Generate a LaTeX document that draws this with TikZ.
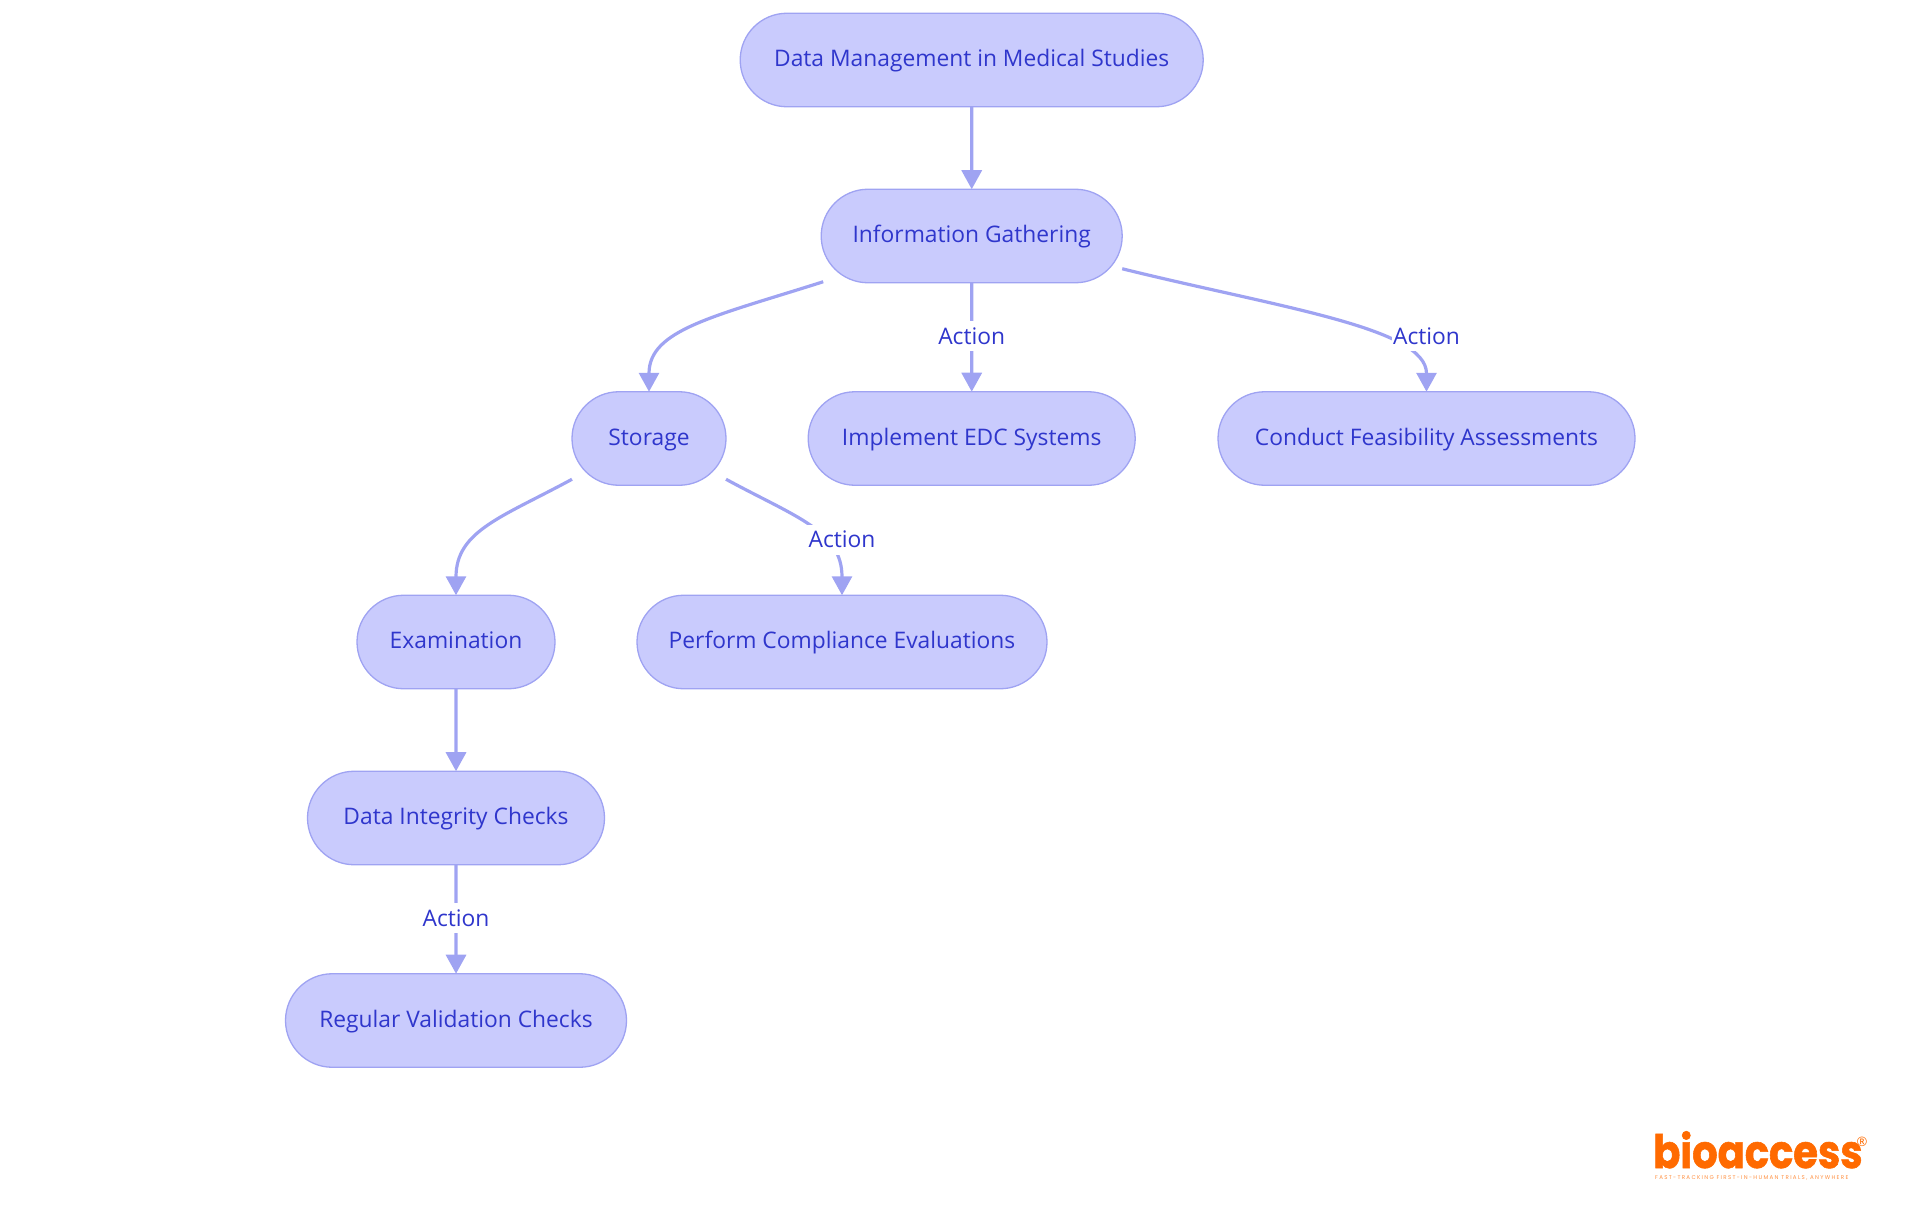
\documentclass[tikz,border=0pt]{standalone}
\usepackage{fontspec}
\usepackage{tikz}
\usetikzlibrary{
        arrows.meta,
        positioning,
        shapes.misc
    }
\setmainfont{Open Sans}
\newfontfamily\logofont[FakeStretch=0.87,BoldFeatures={FakeBold=1.2}]{Poppins}
\newfontfamily\taglinefont[LetterSpace=24]{Poppins}
\definecolor{pillfill}{HTML}{C9CBFD}
\definecolor{pillline}{HTML}{9FA3F2}
\definecolor{pilltext}{HTML}{2F36CC}
\definecolor{logoorange}{HTML}{FF6A00}
\tikzset{>={Triangle[width=20pt,length=19pt]},node distance=109pt}
\tikzset{pill/.style={rounded rectangle,draw=pillline,fill=pillfill,line width=1.3pt,text=pilltext,
        font=\fontsize{22.8}{26}\selectfont,minimum height=93.5pt,inner ysep=0pt,inner xsep=0pt,outer sep=0pt,
        text height=16pt,text depth=2.6pt}}
\tikzset{actionlabel/.style={fill=white,text=pilltext,font=\fontsize{22.8}{26}\selectfont,
        inner sep=0pt,minimum width=70pt,minimum height=30pt,text height=16pt,text depth=0pt}}
\tikzset{link/.style={->,draw=pillline,line width=3.2pt}}

\begin{document}
\begin{tikzpicture}[every edge/.style={link}]
                \useasboundingbox (0,0) rectangle (1920pt,-1215pt);
                \node[pill,minimum width=463pt] (mgmt) at (971.7pt,-60pt) {Data Management in Medical Studies};
                \node[pill,minimum width=301pt] (gather) [below=82.5pt of mgmt] {Information Gathering};
                \node[pill,minimum width=154pt] (storage) [below=of gather,xshift=-322.7pt] {Storage};
                \node[pill,minimum width=327pt] (edc) [below=of gather] {Implement EDC Systems};
                \node[pill,minimum width=417pt] (feasibility) [below=of gather,xshift=454.8pt] {Conduct Feasibility Assessments};
                \node[pill,minimum width=198pt] (exam) [below=110pt of storage,xshift=-193pt] {Examination};
                \node[pill,minimum width=410pt] (compliance) [below=110pt of storage,xshift=193pt] {Perform Compliance Evaluations};
                \node[pill,minimum width=297pt] (integrity) [below=82.5pt of exam] {Data Integrity Checks};
                \node[pill,minimum width=341pt] (validation) [below=of integrity] {Regular Validation Checks};
                \path
                    (mgmt)  edge  (gather)
                    (gather)  edge  (edc)
                    (exam)  edge  (integrity)
                    (integrity)  edge  (validation)
                ;
                \draw[link] ([xshift=-148.5pt,yshift=1pt]gather.south) .. controls +(-110pt,-35pt) and ([yshift=62pt]storage.north) .. (storage.north);
                \draw[link] ([xshift=150.5pt,yshift=14pt]gather.south) .. controls +(158pt,-39pt) and ([yshift=64pt]feasibility.north) .. (feasibility.north);
                \draw[link] ([xshift=-77pt,yshift=6pt]storage.south) .. controls +(-70pt,-38pt) and ([yshift=64.5pt]exam.north) .. (exam.north);
                \draw[link] ([xshift=77pt,yshift=6pt]storage.south) .. controls +(70pt,-38pt) and ([yshift=64.5pt]compliance.north) .. (compliance.north);
                \node[actionlabel] (lbledc) [above=40.5pt of edc] {Action};
                \node[actionlabel] (lblfeasibility) [above=40.5pt of feasibility] {Action};
                \node[actionlabel] (lblcompliance) [above=40.5pt of compliance] {Action};
                \node[actionlabel] (lblvalidation) [above=40.5pt of validation] {Action};
                \node[text=logoorange,inner sep=0pt,anchor=base west,font=\logofont\bfseries\fontsize{46}{50}\selectfont] (brand) at (1653pt,-1168pt) {bioaccess};
                \node[text=logoorange,inner sep=0pt,anchor=center,font=\fontsize{13}{14}\selectfont] (brandmark) at (1862pt,-1142pt) {®};
                \node[text=logoorange!75,inner sep=0pt,anchor=base west,font=\taglinefont\fontsize{5.5}{6}\selectfont] (tagline) at (1655pt,-1179pt) {FAST-TRACKING FIRST-IN-HUMAN TRIALS, ANYWHERE};
            \end{tikzpicture}
\end{document}
